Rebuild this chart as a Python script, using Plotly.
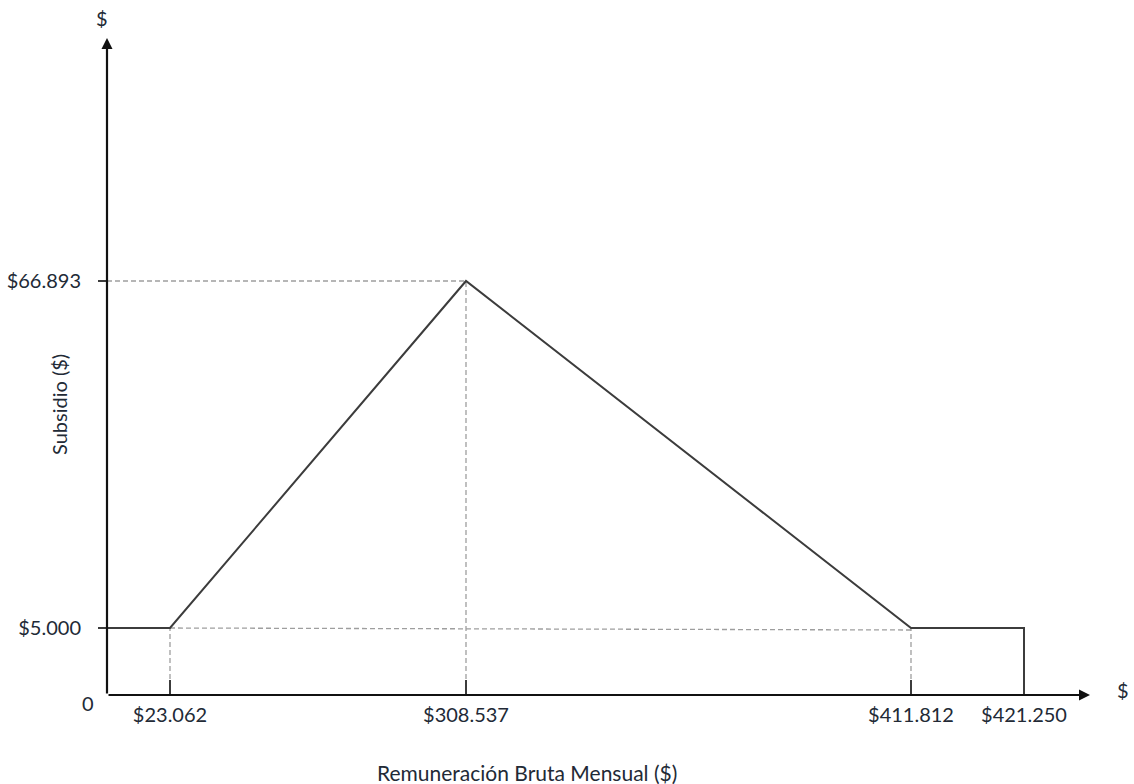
import plotly.graph_objects as go

# ---------------- data ----------------
income = [0, 23062, 308537, 411812, 421250, 421250]
subsidy = [5000, 5000, 66893, 5000, 5000, 0]
income_ticks = [23062, 308537, 411812, 421250]
income_labels = ["$23.062", "$308.537", "$411.812", "$421.250"]
subsidy_ticks = [5000, 66893]
subsidy_labels = ["$5.000", "$66.893"]
peak_income = 308537
peak_subsidy = 66893
floor_subsidy = 5000

# ---------------- schematic (not-to-scale) axis layout ----------------
X_SLOT = {0: 0, 23062: 63, 308537: 359, 411812: 804, 421250: 917}
Y_SLOT = {0: 0, 5000: 67, 66893: 414}
XR, YR = 993.0, 665.0


def sx(v):
    return X_SLOT[v]


def sy(v):
    return Y_SLOT[v]


def px(dx):
    return dx / XR


def py(dy):
    return dy / YR


LINE = "#3c3c3c"
DASH = "#9e9e9e"
TXT = "#222a36"
FONT = "Lato"

fig = go.Figure()

# dashed guide lines
guide_x, guide_y = [], []
guide_x += [sx(23062), sx(411812), None]
guide_y += [sy(floor_subsidy), sy(floor_subsidy) - 2, None]
guide_x += [0, sx(peak_income), None]
guide_y += [sy(peak_subsidy), sy(peak_subsidy), None]
for v, top in [(23062, floor_subsidy), (peak_income, peak_subsidy), (411812, floor_subsidy)]:
    guide_x += [sx(v), sx(v), None]
    guide_y += [0, sy(top), None]
fig.add_trace(go.Scatter(x=guide_x, y=guide_y, mode="lines",
                         line=dict(color=DASH, width=1.3, dash="5px,3px"),
                         hoverinfo="skip", showlegend=False))

# main subsidy line
fig.add_trace(go.Scatter(x=[sx(v) for v in income], y=[sy(v) for v in subsidy],
                         mode="lines", line=dict(color=LINE, width=2),
                         showlegend=False, hoverinfo="skip"))

# axis arrows (data refs, inside the axis range)
fig.add_annotation(x=983, y=0, ax=0, ay=0, xref="x", yref="y", axref="x", ayref="y",
                   showarrow=True, arrowhead=2, arrowsize=1, arrowwidth=2.2,
                   arrowcolor="#111111", text="", standoff=0)
fig.add_annotation(x=0, y=657, ax=0, ay=0, xref="x", yref="y", axref="x", ayref="y",
                   showarrow=True, arrowhead=2, arrowsize=1, arrowwidth=2.2,
                   arrowcolor="#111111", text="", standoff=0)

# text labels
lbl = dict(family=FONT, size=20, color=TXT)


def note(x, y, text, font=lbl, angle=0):
    fig.add_annotation(x=px(x), y=py(y), xref="paper", yref="paper", text=text,
                       showarrow=False, font=font, textangle=angle,
                       xanchor="center", yanchor="middle")


note(-5, 677, "$")
note(1016, 5, "$")
note(-19, -8, "0")
note(-48, 290, "Subsidio ($)", font=dict(family=FONT, size=20, color=TXT), angle=-90)
note(420, -77, "Remuneración Bruta Mensual ($)", font=dict(family=FONT, size=21, color=TXT))

fig.update_xaxes(range=[0, XR], showgrid=False, zeroline=False, showline=False,
                 automargin=False,
                 tickmode="array", tickvals=[sx(v) for v in income_ticks], ticktext=income_labels,
                 ticks="inside", ticklen=15, tickwidth=2, tickcolor=LINE, ticklabelstandoff=6,
                 tickfont=lbl, fixedrange=True)
fig.update_yaxes(range=[0, YR], showgrid=False, zeroline=False, showline=False,
                 automargin=False,
                 tickmode="array", tickvals=[sy(v) for v in subsidy_ticks], ticktext=subsidy_labels,
                 ticks="outside", ticklen=8, tickwidth=1.5, tickcolor=LINE, ticklabelstandoff=13,
                 tickfont=lbl, fixedrange=True)

fig.update_layout(width=1134, height=784, margin=dict(l=107, r=34, t=30, b=89),
                  plot_bgcolor="white", paper_bgcolor="white", showlegend=False)

fig.write_html("out.html", config={"displayModeBar": False},
               post_script="document.body.style.margin='0';document.body.style.overflow='hidden';")
